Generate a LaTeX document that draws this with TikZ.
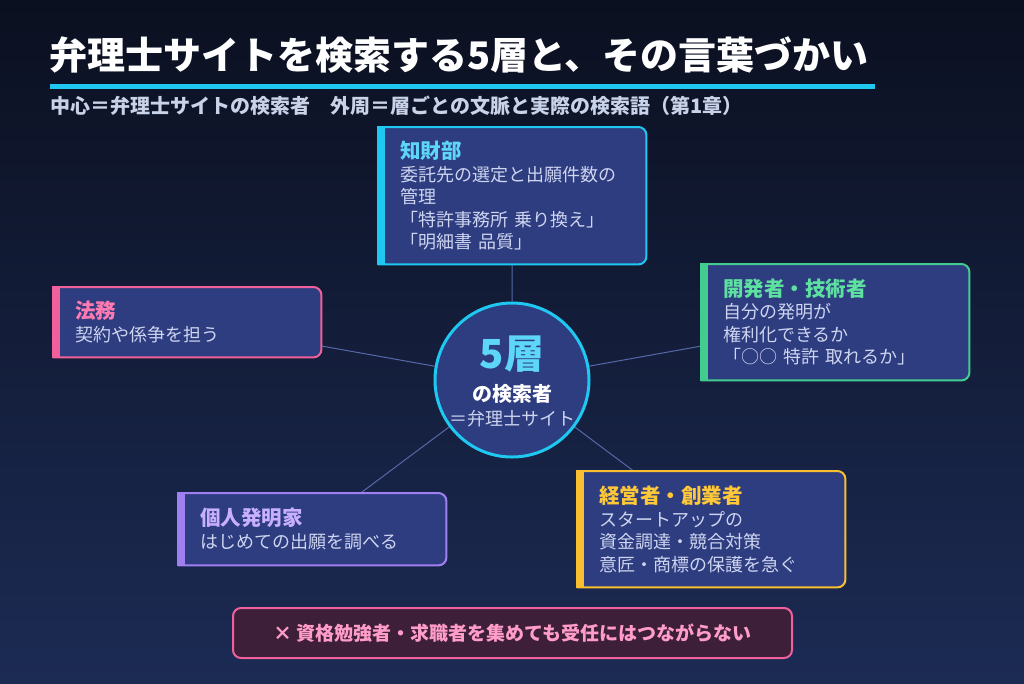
\documentclass[tikz,border=0pt]{standalone}
\usepackage{fontspec}
\setmainfont{Noto Sans CJK JP}
\usetikzlibrary{backgrounds}

\definecolor{bgtop}{HTML}{0B1020}
\definecolor{bgbot}{HTML}{1C2B54}
\definecolor{boxfill}{HTML}{2E3C80}
\definecolor{bodytext}{HTML}{CDD5F0}
\definecolor{subtext}{HTML}{C8D2E8}
\definecolor{linkline}{HTML}{5568A8}
\definecolor{cyanline}{HTML}{1EC8F0}
\definecolor{cyantext}{HTML}{5ED6F8}
\definecolor{pinkline}{HTML}{F0609A}
\definecolor{pinktext}{HTML}{FF7AB0}
\definecolor{greenline}{HTML}{44CC90}
\definecolor{greentext}{HTML}{5EE0A0}
\definecolor{purpleline}{HTML}{A080F0}
\definecolor{purpletext}{HTML}{C8B0FF}
\definecolor{yellowline}{HTML}{F8C030}
\definecolor{yellowtext}{HTML}{FFC838}
\definecolor{notefill}{HTML}{3E1F3A}
\definecolor{notetext}{HTML}{FF9CC8}

\newcommand\ptitle[2]{{\bfseries\fontsize{20.5pt}{22.5pt}\selectfont\color{#1}#2}}

\begin{document}
\begin{tikzpicture}[x=1pt, y=-1pt,
    persona/.style={anchor=north west, minimum width=268pt, text width=224pt,
      inner xsep=22pt, inner ysep=0pt, align=left, text=bodytext,
      font=\fontsize{18pt}{22.5pt}\selectfont},
    link/.style={linkline, line width=1pt}]
  \useasboundingbox (0,0) rectangle (1024,683);

  % heading
  \node[anchor=west, inner sep=0pt, text=white,
    font=\bfseries\fontsize{38pt}{40pt}\selectfont] (title) at (49,55)
    {弁理士サイトを検索する5層と、その言葉づかい};
  \fill[cyanline] (50,83.5) rectangle (875,88.5);
  \node[anchor=west, inner sep=0pt, text=subtext,
    font=\bfseries\fontsize{20pt}{22pt}\selectfont] (subtitle) at (50,106)
    {中心＝弁理士サイトの検索者　外周＝層ごとの文脈と実際の検索語（第1章）};

  % hub
  \node[circle, minimum size=154pt, fill=boxfill, draw=cyanline,
    line width=3pt] (hub) at (512,380) {};
  \node[text=cyantext, font=\bfseries\fontsize{40pt}{42pt}\selectfont]
    (hubnum) at (512,354) {5層};
  \node[text=white, font=\bfseries\fontsize{20pt}{22pt}\selectfont]
    (hubrole) at (512,394) {の検索者};
  \node[text=bodytext, font=\fontsize{18pt}{20pt}\selectfont]
    (hubsite) at (512,419) {＝弁理士サイト};

  % five layers
  \node[persona, minimum height=137pt] (chizai) at (378,127)
    {\ptitle{cyantext}{知財部}\\委託先の選定と出願件数の\\管理\\
     「特許事務所 乗り換え」\\「明細書 品質」};
  \node[persona, minimum height=70pt] (houmu) at (53,287)
    {\ptitle{pinktext}{法務}\\契約や係争を担う};
  \node[persona, minimum height=116pt] (kaihatsu) at (701,264)
    {\ptitle{greentext}{開発者・技術者}\\自分の発明が\\権利化できるか\\
     「○○ 特許 取れるか」};
  \node[persona, minimum height=72pt] (kojin) at (178,493)
    {\ptitle{purpletext}{個人発明家}\\はじめての出願を調べる};
  \node[persona, minimum height=116pt] (keiei) at (577,471)
    {\ptitle{yellowtext}{経営者・創業者}\\スタートアップの\\資金調達・競合対策\\
     意匠・商標の保護を急ぐ};

  % caveat
  \node[rounded corners=8pt, fill=notefill, draw=pinkline, line width=2pt,
    minimum width=559pt, minimum height=50pt, text=notetext,
    font=\bfseries\fontsize{19pt}{21pt}\selectfont] (caveat) at (512.5,633)
    {× 資格勉強者・求職者を集めても受任にはつながらない};

  \begin{scope}[on background layer]
    \shade[top color=bgtop, bottom color=bgbot] (0,0) rectangle (1024,683);
    \foreach \n in {chizai, houmu, kaihatsu, kojin, keiei}
      \draw[link] (hub) -- (\n);
    \foreach \n/\c in {chizai/cyanline, houmu/pinkline, kaihatsu/greenline,
        kojin/purpleline, keiei/yellowline}{
      \draw[\c, line width=2pt, fill=boxfill, rounded corners=8pt]
        (\n.north west) -- (\n.north east) -- (\n.south east) -- (\n.south west);
      \fill[\c] ([shift={(-1pt,1pt)}]\n.north west)
        rectangle ([shift={(7pt,-1pt)}]\n.south west);
    }
  \end{scope}
\end{tikzpicture}
\end{document}
